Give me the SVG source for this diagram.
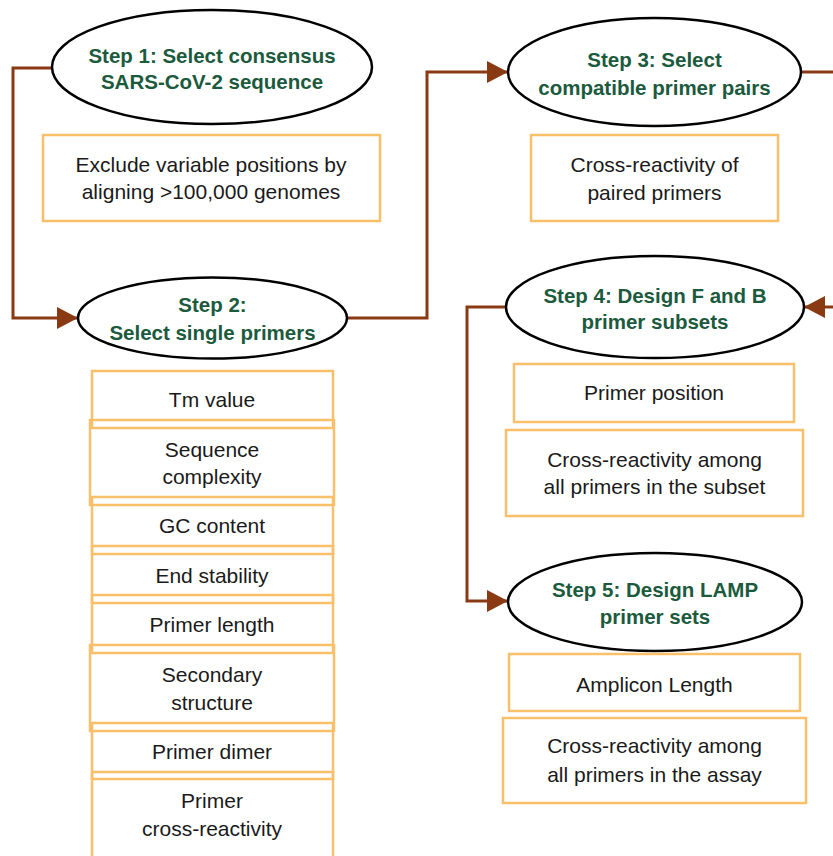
<svg xmlns="http://www.w3.org/2000/svg" width="833" height="856" viewBox="0 0 833 856">
<defs>
<style>
.step{fill:#fff;stroke:#000;stroke-width:2.5}
.st{font-family:"Liberation Sans",Arial,sans-serif;font-weight:bold;font-size:20.5px;fill:#1b5a3d;text-anchor:middle}
.box{fill:none;stroke:#f8c06a;stroke-width:2.5}
.bt{font-family:"Liberation Sans",Arial,sans-serif;font-size:21px;fill:#1a1a1a;text-anchor:middle}
.conn{fill:none;stroke:#8a3a12;stroke-width:3}
</style>
<marker id="ah" markerUnits="userSpaceOnUse" markerWidth="22" markerHeight="24" refX="21" refY="11" orient="auto">
<path d="M0,0 L21,11 L0,22 Z" fill="#8a3a12"/>
</marker>
</defs>
<rect width="833" height="856" fill="#fff"/>
<g id="connectors">
<path class="conn" d="M52,68 H13 V318 H78" marker-end="url(#ah)"/>
<path class="conn" d="M347,318 H427 V72 H508" marker-end="url(#ah)"/>
<path class="conn" d="M801,72 H833"/>
<path class="conn" d="M833,307 H804" marker-end="url(#ah)"/>
<path class="conn" d="M505,307 H467 V601 H508" marker-end="url(#ah)"/>
</g>
<g id="step1">
<ellipse class="step" cx="212" cy="67" rx="160" ry="57"/>
<text class="st" x="212" y="63">Step 1: Select consensus</text>
<text class="st" x="212" y="89">SARS-CoV-2 sequence</text>
</g>
<g id="box1">
<rect class="box" x="43" y="135" width="337" height="86"/>
<text class="bt" x="211" y="172">Exclude variable positions by</text>
<text class="bt" x="211" y="199">aligning &gt;100,000 genomes</text>
</g>
<g id="step2">
<ellipse class="step" cx="212.5" cy="318" rx="134.5" ry="40.5"/>
<text class="st" x="212.5" y="312">Step 2:</text>
<text class="st" x="212.5" y="340">Select single primers</text>
</g>
<g id="step3">
<ellipse class="step" cx="654.5" cy="72" rx="146.5" ry="54"/>
<text class="st" x="654.5" y="67">Step 3: Select</text>
<text class="st" x="654.5" y="95">compatible primer pairs</text>
</g>
<g id="box3">
<rect class="box" x="531" y="135" width="247" height="86"/>
<text class="bt" x="654.5" y="172">Cross-reactivity of</text>
<text class="bt" x="654.5" y="200">paired primers</text>
</g>
<g id="step4">
<ellipse class="step" cx="655" cy="307" rx="149" ry="51"/>
<text class="st" x="655" y="303">Step 4: Design F and B</text>
<text class="st" x="655" y="329">primer subsets</text>
</g>
<g id="box4a">
<rect class="box" x="514" y="364" width="280" height="58"/>
<text class="bt" x="654" y="400">Primer position</text>
</g>
<g id="box4b">
<rect class="box" x="506" y="430" width="297" height="86"/>
<text class="bt" x="654.5" y="467">Cross-reactivity among</text>
<text class="bt" x="654.5" y="494">all primers in the subset</text>
</g>
<g id="step5">
<ellipse class="step" cx="655" cy="602" rx="147" ry="49"/>
<text class="st" x="655" y="597">Step 5: Design LAMP</text>
<text class="st" x="655" y="624">primer sets</text>
</g>
<g id="box5a">
<rect class="box" x="509" y="654" width="291" height="57"/>
<text class="bt" x="654.5" y="692">Amplicon Length</text>
</g>
<g id="box5b">
<rect class="box" x="503" y="718" width="303" height="85"/>
<text class="bt" x="654.5" y="753">Cross-reactivity among</text>
<text class="bt" x="654.5" y="782">all primers in the assay</text>
</g>
<g id="crit-tm">
<rect class="box" x="92" y="371" width="241" height="57"/>
<text class="bt" x="212" y="407">Tm value</text>
</g>
<g id="crit-seq">
<rect class="box" x="90" y="420" width="244" height="85"/>
<text class="bt" x="212" y="457">Sequence</text>
<text class="bt" x="212" y="484">complexity</text>
</g>
<g id="crit-gc">
<rect class="box" x="92" y="497" width="241" height="57"/>
<text class="bt" x="212" y="533">GC content</text>
</g>
<g id="crit-end">
<rect class="box" x="92" y="546" width="241" height="57"/>
<text class="bt" x="212" y="583">End stability</text>
</g>
<g id="crit-len">
<rect class="box" x="92" y="595" width="241" height="58"/>
<text class="bt" x="212" y="632">Primer length</text>
</g>
<g id="crit-sec">
<rect class="box" x="90" y="645" width="244" height="86"/>
<text class="bt" x="212" y="682">Secondary</text>
<text class="bt" x="212" y="710">structure</text>
</g>
<g id="crit-dimer">
<rect class="box" x="92" y="723" width="241" height="56"/>
<text class="bt" x="212" y="759">Primer dimer</text>
</g>
<g id="crit-cross">
<rect class="box" x="92" y="772" width="241" height="100"/>
<text class="bt" x="212" y="808">Primer</text>
<text class="bt" x="212" y="836">cross-reactivity</text>
</g>
</svg>
